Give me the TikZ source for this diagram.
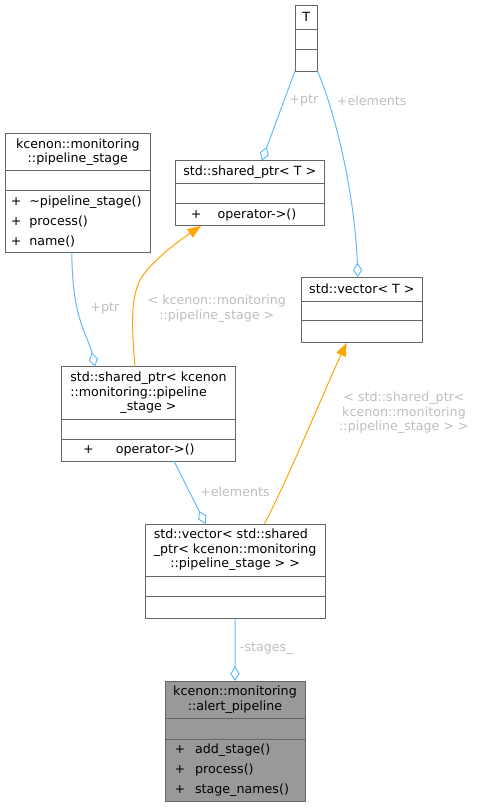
\documentclass[tikz,border=0pt]{standalone}
\usepackage{fontspec}
\setmainfont{DejaVu Sans}
\usetikzlibrary{positioning,arrows.meta,calc}
\definecolor{boxline}{HTML}{666666}
\definecolor{edgeblue}{HTML}{63B8FF}
\definecolor{edgeorange}{HTML}{FFA500}
\definecolor{lblgray}{HTML}{BEBEBE}
\definecolor{curfill}{HTML}{999999}
\newcommand{\mbr}[2]{+\hspace{#1}#2}
\newcommand{\leftlines}[3]{\begin{tabular}{@{}l@{}}#1\\#2\\\multicolumn{1}{@{}c@{}}{#3}\end{tabular}}
\tikzstyle{cls} = [rectangle,draw=boxline,line width=0.75pt,fill=white,inner sep=0pt,outer sep=0pt,font=\fontsize{9.5}{10.7}\selectfont]

\begin{document}
\begin{tikzpicture}
		[
		x=0.75pt, y=-0.75pt,
		header/.style={cls,align=center,anchor=north west},
		members/.style={cls,align=left,font=\fontsize{9.5}{15}\selectfont},
		current/.style={fill=curfill},
		aggr/.style={draw=edgeblue,line width=0.75pt,-{Diamond[open,length=11pt,width=7pt]}},
		inst/.style={draw=edgeorange,line width=0.75pt,-{Triangle[length=10pt,width=7.5pt]}},
		lbl/.style={font=\fontsize{9.5}{10.7}\selectfont,text=lblgray,align=center,inner sep=0pt}
		]
		\useasboundingbox (0,0) rectangle (477,807);

		\node[header,minimum width=16.9pt,minimum height=18pt](t_title) at (295,5) {T};
		\node[cls,minimum width=16.9pt,minimum height=15pt,below=0pt of t_title](t_attr) {};
		\node[cls,minimum width=16.9pt,minimum height=16.5pt,below=0pt of t_attr](t_meth) {};

		\node[header,minimum width=109.3pt,minimum height=28pt](stage_title) at (5,133.3) {kcenon::monitoring\\::pipeline\_stage};
		\node[cls,minimum width=109.3pt,minimum height=15.2pt,below=0pt of stage_title](stage_attr) {};
		\node[members,inner xsep=4.4pt,text width=100.5pt,minimum height=46.5pt,below=0pt of stage_attr](stage_meth) {\mbr{5.9pt}{\textasciitilde pipeline\_stage()}\\\mbr{5.9pt}{process()}\\\mbr{5.9pt}{name()}};

		\node[header,minimum width=111.75pt,minimum height=17.25pt](sptr_t_title) at (175.3,160.7) {std::shared\_ptr< T >};
		\node[cls,minimum width=111.75pt,minimum height=15pt,below=0pt of sptr_t_title](sptr_t_attr) {};
		\node[members,inner xsep=11.7pt,text width=88.35pt,minimum height=16.7pt,below=0pt of sptr_t_attr](sptr_t_meth) {\mbr{12pt}{operator->()}};

		\node[header,minimum width=91.3pt,minimum height=17.8pt](vec_t_title) at (301,277.3) {std::vector< T >};
		\node[cls,minimum width=91.3pt,minimum height=14.8pt,below=0pt of vec_t_title](vec_t_attr) {};
		\node[cls,minimum width=91.3pt,minimum height=16.5pt,below=0pt of vec_t_attr](vec_t_meth) {};

		\node[header,minimum width=130.2pt,minimum height=39.75pt](sptr_stage_title) at (61.7,366.7) {\leftlines{std::shared\_ptr< kcenon}{::monitoring::pipeline}{\_stage >}};
		\node[cls,minimum width=130.2pt,minimum height=15pt,below=0pt of sptr_stage_title](sptr_stage_attr) {};
		\node[members,inner xsep=16pt,text width=98.2pt,minimum height=16pt,below=0pt of sptr_stage_attr](sptr_stage_meth) {\mbr{16.7pt}{operator->()}};

		\node[header,minimum width=135.2pt,minimum height=39.5pt](vec_stage_title) at (145,524) {\leftlines{std::vector< std::shared}{\_ptr< kcenon::monitoring}{::pipeline\_stage > >}};
		\node[cls,minimum width=135.2pt,minimum height=15pt,below=0pt of vec_stage_title](vec_stage_attr) {};
		\node[cls,minimum width=135.2pt,minimum height=16.5pt,below=0pt of vec_stage_attr](vec_stage_meth) {};

		\node[header,current,minimum width=105pt,minimum height=28pt](pipe_title) at (165,681) {kcenon::monitoring\\::alert\_pipeline};
		\node[cls,current,minimum width=105pt,minimum height=15.5pt,below=0pt of pipe_title](pipe_attr) {};
		\node[members,current,inner xsep=7.3pt,text width=90.4pt,minimum height=46.5pt,below=0pt of pipe_attr](pipe_meth) {\mbr{7.3pt}{add\_stage()}\\\mbr{7.3pt}{process()}\\\mbr{7.3pt}{stage\_names()}};

		\draw[aggr] (t_meth.south west) -- ($(sptr_t_title.north)+(12,0)$);
		\draw[aggr] (t_meth.south east) .. controls (338,120) and (355,200) .. ($(vec_t_title.north)+(-4,0)$);
		\draw[aggr] ($(stage_meth.south)+(-6,0)$) .. controls (72,320) and (88,335) .. ($(sptr_stage_title.north)+(-53.5,0)$);
		\draw[inst] ($(sptr_stage_title.north)+(-13.5,0)$) .. controls (132,330) and (130,300) .. (140,280) .. controls (150,262) and (180,240) .. ($(sptr_t_meth.south)+(-48.8,0)$);
		\draw[aggr] ($(sptr_stage_meth.south)+(25.5,0)$) -- ($(vec_stage_title.north)+(-29.5,0)$);
		\draw[inst] ($(vec_stage_title.north)+(29.2,0)$) .. controls (290,475) and (320,400) .. ($(vec_t_meth.south)+(-15.2,0)$);
		\draw[aggr] (vec_stage_meth.south) -- (pipe_title.north);

		\node[lbl](lbl_ptr_t) at (303.8,100.7) {+ptr};
		\node[lbl](lbl_elements_t) at (371.7,100.7) {+elements};
		\node[lbl](lbl_ptr_stage) at (104.8,308.7) {+ptr};
		\node[lbl](lbl_sptr_args) at (216.8,308.8) {< kcenon::monitoring\\::pipeline\_stage >};
		\node[lbl](lbl_elements_stage) at (235,491.3) {+elements};
		\node[lbl](lbl_vec_args) at (404,412.7) {< std::shared\_ptr<\\kcenon::monitoring\\::pipeline\_stage > >};
		\node[lbl](lbl_stages) at (266.3,649) {-stages\_};
		\end{tikzpicture}
\end{document}
